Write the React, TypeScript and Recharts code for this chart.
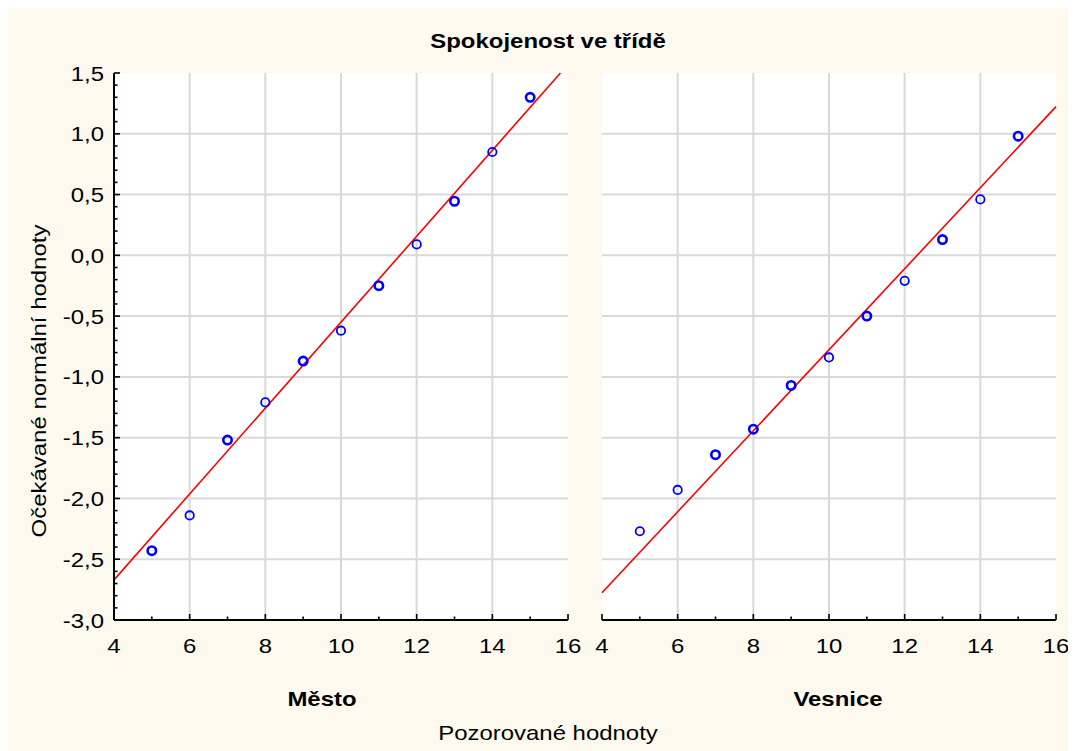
import React from 'react';
import { ScatterChart, Scatter, XAxis, YAxis, CartesianGrid, ReferenceLine } from 'recharts';

// ---- data ----
const observed = [5, 6, 7, 8, 9, 10, 11, 12, 13, 14, 15];
const mestoExpected = [-2.43, -2.14, -1.52, -1.21, -0.87, -0.62, -0.25, 0.09, 0.445, 0.85, 1.3];
const mestoCount = [2, 1, 3, 1, 3, 1, 3, 1, 3, 1, 3];
const vesniceExpected = [-2.27, -1.93, -1.64, -1.43, -1.07, -0.84, -0.5, -0.21, 0.13, 0.46, 0.98];
const vesniceCount = [1, 1, 3, 2, 3, 1, 3, 1, 3, 1, 3];

const mestoFit = [{ x: 4, y: -2.67 }, { x: 15.8, y: 1.5 }];
const vesniceFit = [{ x: 4, y: -2.776 }, { x: 16, y: 1.223 }];

const xTicks = [4, 5, 6, 7, 8, 9, 10, 11, 12, 13, 14, 15, 16];
const xGrid = [6, 8, 10, 12, 14];
const yGrid = [-2.5, -2, -1.5, -1, -0.5, 0, 0.5, 1];
const yTicks: number[] = [];
for (let i = 0; i <= 45; i++) yTicks.push(Math.round((-3 + i * 0.1) * 10) / 10);

const title = 'Spokojenost ve třídě';
const yTitle = 'Očekávané normální hodnoty';
const xTitle = 'Pozorované hodnoty';
const panelNames = ['Město', 'Vesnice'];

const FONT = '"Liberation Sans", Arial, sans-serif';
const BG = '#FEF9EF';
const SX = 1.14;

const mestoData = observed.map((x, i) => ({ x, y: mestoExpected[i], n: mestoCount[i] }));
const vesniceData = observed.map((x, i) => ({ x, y: vesniceExpected[i], n: vesniceCount[i] }));

const isMajorX = (v: number) => Math.abs(v / 2 - Math.round(v / 2)) < 1e-6;
const isMajorY = (v: number) => Math.abs(v * 2 - Math.round(v * 2)) < 1e-6;

const XTickMark = (props: any) => {
  const { x, y, payload, dir, withLabel } = props;
  const v = payload.value;
  const major = isMajorX(v);
  const len = major ? 6 : 3.5;
  return (
    <g>
      <line x1={x} x2={x} y1={y} y2={y + dir * len} stroke="#000" strokeWidth={1.6} />
      {withLabel && major && (
        <text
          transform={`translate(${x},${y + 25}) scale(${SX},1)`}
          x={0}
          y={0}
          dy="0.36em"
          textAnchor="middle"
          fill="#000"
          fontSize={21}
          fontFamily={FONT}
        >
          {v}
        </text>
      )}
    </g>
  );
};

const YTickMark = (props: any) => {
  const { x, y, payload, dir, withLabel } = props;
  const v = payload.value;
  const major = isMajorY(v);
  const len = major ? 6 : 3.5;
  return (
    <g>
      <line x1={x} x2={x + dir * len} y1={y} y2={y} stroke="#000" strokeWidth={1.6} />
      {withLabel && major && (
        <text
          transform={`translate(${x - 10},${y}) scale(${SX},1)`}
          x={0}
          y={0}
          dy="0.36em"
          textAnchor="end"
          fill="#000"
          fontSize={21}
          fontFamily={FONT}
        >
          {v.toFixed(1).replace('.', ',')}
        </text>
      )}
    </g>
  );
};

const Dot = (p: any) => (
  <circle
    cx={p.cx}
    cy={p.cy}
    r={4.2}
    fill="none"
    stroke="#0000FF"
    strokeWidth={p.payload && p.payload.n > 1 ? 2.6 : 1.8}
  />
);

const axisLine = { stroke: '#000', strokeWidth: 2 };

function Panel(props: { data: any[]; fit: { x: number; y: number }[]; labels: boolean; width: number; margin: any; yWidth: number }) {
  const { data, fit, labels, width, margin, yWidth } = props;
  return (
    <ScatterChart width={width} height={672} margin={margin}>
      <CartesianGrid
        horizontalValues={yGrid}
        verticalValues={xGrid}
        stroke="#D9D9D9"
        strokeWidth={2}
        fill="#FFFFFF"
        fillOpacity={1}
      />
      <XAxis
        type="number"
        dataKey="x"
        domain={[4, 16]}
        ticks={xTicks}
        interval={0}
        allowDataOverflow
        height={60}
        tickLine={false}
        tickSize={0}
        tickMargin={0}
        axisLine={axisLine}
        tick={(p: any) => <XTickMark {...p} dir={-1} withLabel />}
      />
      <XAxis
        xAxisId="top"
        orientation="top"
        type="number"
        domain={[4, 16]}
        ticks={xTicks}
        interval={0}
        allowDataOverflow
        height={0}
        tickLine={false}
        tickSize={0}
        tickMargin={0}
        axisLine={axisLine}
        tick={(p: any) => <XTickMark {...p} dir={1} />}
      />
      <YAxis
        type="number"
        dataKey="y"
        domain={[-3, 1.5]}
        ticks={yTicks}
        interval={0}
        allowDataOverflow
        width={yWidth}
        tickLine={false}
        tickSize={0}
        tickMargin={0}
        axisLine={axisLine}
        tick={(p: any) => <YTickMark {...p} dir={1} withLabel={labels} />}
      />
      <YAxis
        yAxisId="right"
        orientation="right"
        type="number"
        domain={[-3, 1.5]}
        ticks={yTicks}
        interval={0}
        allowDataOverflow
        width={0}
        tickLine={false}
        tickSize={0}
        tickMargin={0}
        axisLine={axisLine}
        tick={(p: any) => <YTickMark {...p} dir={-1} />}
      />
      <ReferenceLine segment={fit} stroke="#FF0000" strokeWidth={1.6} ifOverflow="visible" />
      <Scatter data={data} shape={Dot} isAnimationActive={false} />
    </ScatterChart>
  );
}

const textStyle: React.CSSProperties = {
  position: 'absolute',
  fontFamily: FONT,
  color: '#000',
  whiteSpace: 'nowrap',
  lineHeight: 1,
  fontSize: 21,
};
const centered = `translate(-50%, -50%) scale(${SX}, 1)`;

export default function App() {
  return (
    <div style={{ position: 'relative', width: 1068, height: 743, background: BG, overflow: 'hidden' }}>
      <div style={{ position: 'absolute', left: 0, top: 0 }}>
        <Panel data={mestoData} fit={mestoFit} labels width={590} margin={{ top: 65, right: 30, bottom: 0, left: 0 }} yWidth={106} />
      </div>
      <div style={{ position: 'absolute', left: 584, top: 0 }}>
        <Panel data={vesniceData} fit={vesniceFit} labels={false} width={484} margin={{ top: 65, right: 20, bottom: 0, left: 10 }} yWidth={0} />
      </div>
      <div style={{ ...textStyle, left: 540, top: 32, fontWeight: 'bold', transform: centered }}>{title}</div>
      <div style={{ ...textStyle, left: 314, top: 690, fontWeight: 'bold', transform: centered }}>{panelNames[0]}</div>
      <div style={{ ...textStyle, left: 830, top: 690, fontWeight: 'bold', transform: centered }}>{panelNames[1]}</div>
      <div style={{ ...textStyle, left: 540, top: 724, transform: centered }}>{xTitle}</div>
      <div style={{ ...textStyle, left: 30, top: 373, transform: `translate(-50%, -50%) rotate(-90deg) scale(${SX}, 1)` }}>{yTitle}</div>
    </div>
  );
}
